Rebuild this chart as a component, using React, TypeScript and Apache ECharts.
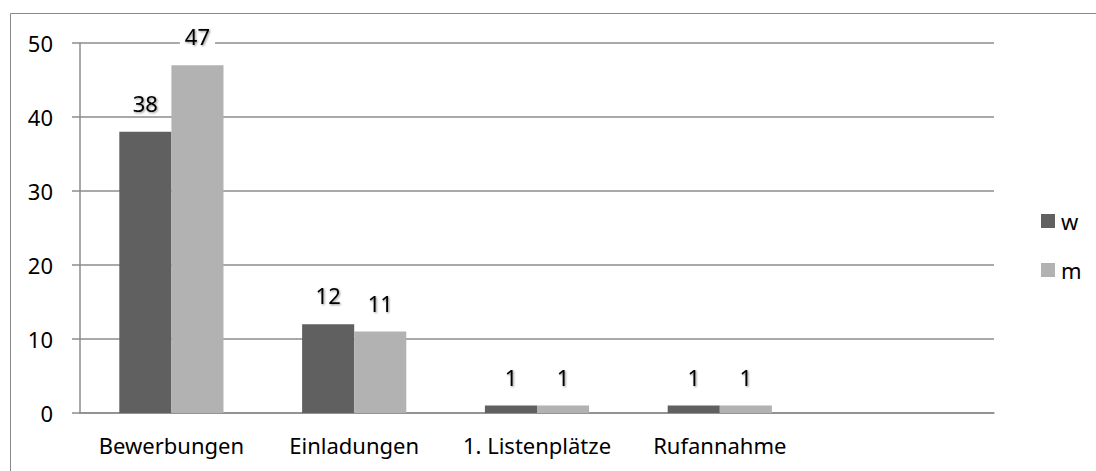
import React, { useEffect, useRef } from "react";
import * as echarts from "echarts";

const categories = ["Bewerbungen", "Einladungen", "1. Listenplätze", "Rufannahme", ""];
const seriesNames = ["w", "m"];
const wValues = [38, 12, 1, 1, null];
const mValues = [47, 11, 1, 1, null];
const colors = ["#606060", "#b2b2b2"];
const FONT = "'Noto Sans', sans-serif";
const FS = 22;

export default function App() {
  const ref = useRef<HTMLDivElement>(null);
  useEffect(() => {
    if (!ref.current) return;
    const chart = echarts.init(ref.current, undefined, { renderer: "svg" });
    const label = {
      show: true,
      position: "top",
      distance: 18,
      fontSize: FS,
      fontFamily: FONT,
      color: "#000",
      backgroundColor: "#fff",
      padding: [0, 5],
      textShadowColor: "rgba(0,0,0,0.45)",
      textShadowBlur: 2,
      textShadowOffsetX: 1,
      textShadowOffsetY: 1,
    };
    chart.setOption({
      animation: false,
      textStyle: { fontFamily: FONT },
      graphic: [
        {
          type: "rect",
          shape: { x: 10.5, y: 13.5, width: 1200, height: 600 },
          style: { fill: "none", stroke: "#888", lineWidth: 1 },
          silent: true,
          z: -10,
        },
      ],
      legend: {
        orient: "vertical",
        left: 1036,
        top: 205,
        itemWidth: 14,
        itemHeight: 14,
        itemGap: 27,
        icon: "rect",
        textStyle: { fontSize: FS, fontFamily: FONT, color: "#000", padding: [0, 0, 0, 1] },
        data: seriesNames,
      },
      grid: { left: 80, right: 102, top: 43, bottom: 58, containLabel: false },
      xAxis: {
        type: "category",
        data: categories,
        axisLine: { lineStyle: { color: "#8c8c8c", width: 1.5 } },
        axisTick: { length: 8, lineStyle: { color: "#8c8c8c", width: 1.5 } },
        axisLabel: { fontSize: FS, fontFamily: FONT, color: "#000", margin: 21, interval: 0 },
      },
      yAxis: {
        type: "value",
        min: 0,
        max: 50,
        interval: 10,
        axisLine: { show: true, lineStyle: { color: "#8c8c8c", width: 1.5 } },
        axisTick: { show: true, length: 8, lineStyle: { color: "#8c8c8c", width: 1.5 } },
        axisLabel: { fontSize: FS, fontFamily: FONT, color: "#000", margin: 27 },
        splitLine: { lineStyle: { color: "#8c8c8c", width: 1.5 } },
      },
      series: [
        {
          name: seriesNames[0],
          type: "bar",
          data: wValues,
          itemStyle: { color: colors[0] },
          barCategoryGap: "43%",
          barGap: "0%",
          label,
        },
        {
          name: seriesNames[1],
          type: "bar",
          data: mValues,
          itemStyle: { color: colors[1] },
          barCategoryGap: "43%",
          barGap: "0%",
          label,
        },
      ],
    });
    return () => chart.dispose();
  }, []);
  return <div ref={ref} style={{ width: 1096, height: 471, position: "absolute", left: 0, top: 0 }} />;
}
